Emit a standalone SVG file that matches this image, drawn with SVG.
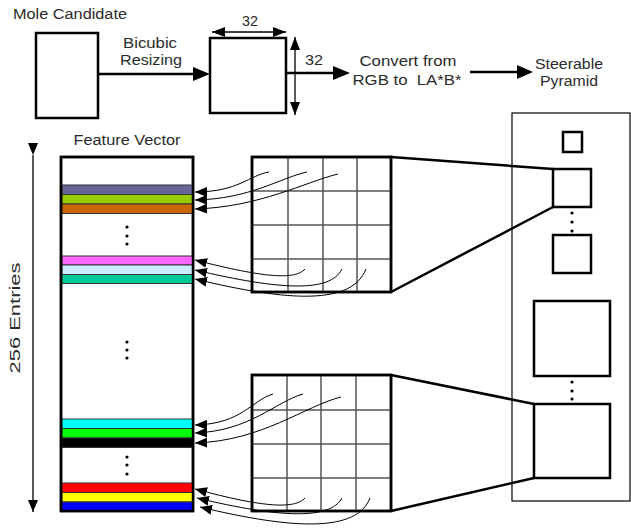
<svg xmlns="http://www.w3.org/2000/svg" width="631" height="529" viewBox="0 0 631 529">
<style>
text{font-family:"Liberation Sans","DejaVu Sans",sans-serif;font-size:14px;fill:#2a2a2a}
.mid{text-anchor:middle}
.box{fill:#fff;stroke:#000;stroke-width:2.5}
.thin{fill:none;stroke:#000;stroke-width:1.2}
.grid{stroke:#555;stroke-width:1.5;fill:none}
.bar{stroke:#333;stroke-width:1}
.curve{fill:none;stroke:#000;stroke-width:1}
.zoom{fill:none;stroke:#000;stroke-width:2.5}
.big{stroke:#000;stroke-width:2.5;fill:none}
.dim{stroke:#000;stroke-width:1.3;fill:none}
</style>
<defs>
<marker id="ah" markerUnits="userSpaceOnUse" markerWidth="12" markerHeight="10" viewBox="0 0 12 10" refX="12" refY="5" orient="auto"><path d="M0,0 L12,5 L0,10 z" fill="#000"/></marker>
<marker id="dh" markerUnits="userSpaceOnUse" markerWidth="13" markerHeight="10" viewBox="0 0 13 10" refX="13" refY="5" orient="auto-start-reverse"><path d="M0,0 L13,5 L0,10 z" fill="#000"/></marker>
<g id="dot"><circle r="1.6" fill="#000"/></g>
</defs>
<rect width="631" height="529" fill="#fff"/>

<g id="mole-candidate">
<text x="13" y="18.5" textLength="114" lengthAdjust="spacingAndGlyphs">Mole Candidate</text>
<rect class="box" x="36" y="33" width="62" height="85"/>
</g>

<g id="resizing-label">
<text class="mid" x="150" y="48" textLength="54" lengthAdjust="spacingAndGlyphs">Bicubic</text>
<text class="mid" x="151" y="65" textLength="62" lengthAdjust="spacingAndGlyphs">Resizing</text>
</g>

<g id="resized">
<rect class="box" x="210" y="38" width="76" height="75"/>
<text class="mid" x="250" y="26" textLength="16" lengthAdjust="spacingAndGlyphs">32</text>
<text x="305" y="65" textLength="18" lengthAdjust="spacingAndGlyphs">32</text>
</g>

<g id="convert">
<text class="mid" x="408" y="66" textLength="97" lengthAdjust="spacingAndGlyphs">Convert from</text>
<text class="mid" x="407" y="85" textLength="109" lengthAdjust="spacingAndGlyphs" style="white-space:pre">RGB to  LA*B*</text>
</g>

<g id="steerable">
<text class="mid" x="569" y="69" textLength="68" lengthAdjust="spacingAndGlyphs">Steerable</text>
<text class="mid" x="569" y="86" textLength="58" lengthAdjust="spacingAndGlyphs">Pyramid</text>
</g>

<g id="pyramid-panel">
<rect class="thin" x="512" y="113" width="118" height="388"/>
<rect class="box" x="563" y="132" width="19" height="20"/>
<rect class="box" x="553" y="169" width="38" height="38"/>
<use href="#dot" x="572" y="213"/><use href="#dot" x="572" y="222"/><use href="#dot" x="572" y="231"/>
<rect class="box" x="553" y="235" width="38" height="38"/>
<rect class="box" x="534" y="301" width="76" height="75"/>
<use href="#dot" x="572" y="382"/><use href="#dot" x="572" y="391"/><use href="#dot" x="572" y="399"/>
<rect class="box" x="534" y="404" width="76" height="74"/>
</g>

<g id="grid-top">
<rect class="box" x="252" y="157" width="139" height="135"/>
<path class="grid" d="M288,158V291M323,158V291M357,158V291M253,191H390M253,225H390M253,259H390"/>
<rect x="252" y="157" width="139" height="135" fill="none" stroke="#000" stroke-width="2.5"/>
</g>

<g id="grid-bottom">
<rect class="box" x="252" y="375" width="139" height="136"/>
<path class="grid" d="M287,376V510M321,376V510M356,376V510M253,410H390M253,444H390M253,478H390"/>
<rect x="252" y="375" width="139" height="136" fill="none" stroke="#000" stroke-width="2.5"/>
</g>

<g id="feature-vector">
<text class="mid" x="127" y="145" textLength="107" lengthAdjust="spacingAndGlyphs">Feature Vector</text>
<rect class="box" x="61" y="157" width="132" height="354"/>
<rect class="bar" x="62" y="185" width="131" height="9.5" fill="#666699"/>
<rect class="bar" x="62" y="194.5" width="131" height="9.5" fill="#99CC00"/>
<rect class="bar" x="62" y="204" width="131" height="9.5" fill="#CC6600"/>
<rect class="bar" x="62" y="256" width="131" height="9" fill="#FF66FF"/>
<rect class="bar" x="62" y="265" width="131" height="9.5" fill="#CCECFF"/>
<rect class="bar" x="62" y="274.5" width="131" height="9" fill="#00CC99"/>
<rect class="bar" x="62" y="419" width="131" height="9.5" fill="#00FFFF"/>
<rect class="bar" x="62" y="428.5" width="131" height="9.5" fill="#00FF00"/>
<rect class="bar" x="62" y="438" width="131" height="9.5" fill="#000000"/>
<rect class="bar" x="62" y="483" width="131" height="9.5" fill="#FF0000"/>
<rect class="bar" x="62" y="492.5" width="131" height="9.5" fill="#FFFF00"/>
<rect class="bar" x="62" y="502" width="131" height="9" fill="#0000FF"/>
<rect x="61" y="157" width="132" height="354" fill="none" stroke="#000" stroke-width="2.5"/>
<use href="#dot" x="127" y="227"/><use href="#dot" x="127" y="236"/><use href="#dot" x="127" y="244"/>
<use href="#dot" x="127" y="342"/><use href="#dot" x="127" y="350"/><use href="#dot" x="127" y="358"/>
<use href="#dot" x="127" y="457"/><use href="#dot" x="127" y="465"/><use href="#dot" x="127" y="474"/>
</g>

<g id="entries">
<text class="mid" transform="translate(20,318) rotate(-90)" x="0" y="0" font-size="16" textLength="111" lengthAdjust="spacingAndGlyphs">256 Entries</text>
</g>

<g id="connectors">
<line class="big" x1="99" y1="74" x2="196" y2="74"/>
<path d="M193,67 L210,74 L193,81 z" fill="#000"/>
<line class="big" x1="286" y1="73" x2="336" y2="73"/>
<path d="M333,66 L350,73 L333,80 z" fill="#000"/>
<line class="big" x1="470" y1="72" x2="520" y2="72"/>
<path d="M517,65 L533,72 L517,79 z" fill="#000"/>
<line class="dim" x1="212" y1="32" x2="286" y2="32" marker-start="url(#dh)" marker-end="url(#dh)"/>
<line class="dim" x1="295" y1="37" x2="295" y2="115" marker-start="url(#dh)" marker-end="url(#dh)"/>
<line class="dim" x1="33" y1="155" x2="33" y2="512" stroke-width="1" marker-start="url(#ah)" marker-end="url(#ah)"/>
<path class="zoom" d="M391,157 L553,169 M391,292 L553,207"/>
<path class="zoom" d="M391,375 L534,404 M391,511 L534,478"/>
<path class="curve" marker-end="url(#ah)" d="M269,172 C250,175 238,192 195,192"/>
<path class="curve" marker-end="url(#ah)" d="M307,172 C280,178 250,199 195,200"/>
<path class="curve" marker-end="url(#ah)" d="M338,174 C305,182 260,207 195,209"/>
<path class="curve" marker-end="url(#ah)" d="M305,269 C295,280 265,278 195,260"/>
<path class="curve" marker-end="url(#ah)" d="M342,269 C330,293 280,290 195,270"/>
<path class="curve" marker-end="url(#ah)" d="M366,269 C352,305 290,302 195,279"/>
<path class="curve" marker-end="url(#ah)" d="M273,394 C252,400 242,424 195,425"/>
<path class="curve" marker-end="url(#ah)" d="M303,394 C275,402 250,431 195,433"/>
<path class="curve" marker-end="url(#ah)" d="M341,397 C305,406 262,441 195,443"/>
<path class="curve" marker-end="url(#ah)" d="M305,498 C295,509 265,508 195,489"/>
<path class="curve" marker-end="url(#ah)" d="M342,498 C330,520 280,518 197,498"/>
<path class="curve" marker-end="url(#ah)" d="M370,498 C357,532 295,530 200,507"/>
</g>
</svg>
